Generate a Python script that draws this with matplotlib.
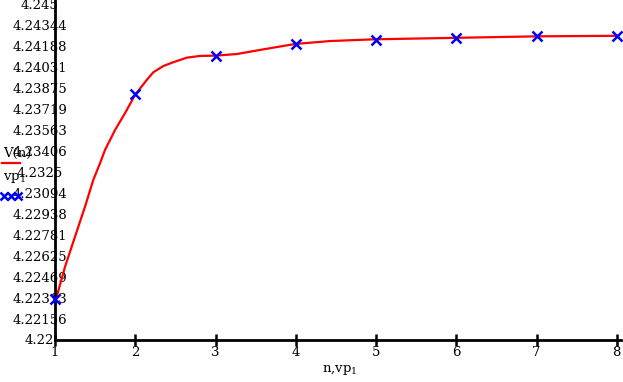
import matplotlib
matplotlib.use("Agg")
import matplotlib.pyplot as plt
from matplotlib.lines import Line2D

# ---- data ----
n_pts = [1, 2, 3, 4, 5, 6, 7, 8]
vp1 = [4.22300, 4.23829, 4.24113, 4.24202, 4.24233, 4.24249, 4.24259, 4.24264]

curve_n = [1.0, 1.021, 1.125, 1.249, 1.374, 1.477, 1.561, 1.623, 1.748,
           1.872, 1.997, 2.143, 2.225, 2.350, 2.474, 2.641, 2.807, 2.994,
           3.264, 3.596, 3.991, 4.427, 4.988, 6.0, 7.0, 8.0]
curve_v = [4.22300, 4.22319, 4.22542, 4.22766, 4.22990, 4.23189, 4.23313,
           4.23412, 4.23561, 4.23686, 4.23822, 4.23934, 4.23991, 4.24038,
           4.24066, 4.24100, 4.24113, 4.24115, 4.24127, 4.24162, 4.24202,
           4.24224, 4.24237, 4.24248, 4.24259, 4.24263]

ytick_vals = [4.22, 4.2215625, 4.223125, 4.2246875, 4.22625, 4.2278125,
              4.229375, 4.2309375, 4.2325, 4.2340625, 4.235625, 4.2371875,
              4.23875, 4.2403125, 4.241875, 4.2434375, 4.245]
ytick_labels = ["4.22", "4.22156", "4.22313", "4.22469", "4.22625", "4.22781",
                "4.22938", "4.23094", "4.2325", "4.23406", "4.23563", "4.23719",
                "4.23875", "4.24031", "4.24188", "4.24344", "4.245"]
xtick_vals = [1, 2, 3, 4, 5, 6, 7, 8]
xtick_labels = ["1", "2", "3", "4", "5", "6", "7", "8"]

# ---- figure ----
W, H = 623, 382
fig = plt.figure(figsize=(W / 100, H / 100), dpi=100)
FONT = "DejaVu Serif"
plt.rcParams["font.family"] = FONT
FS = 9.5

ax = fig.add_axes([55 / W, (H - 339.5) / H, (621 - 55) / W, 339.5 / H])
ax.set_xlim(1, 1 + 566 / 80.25)
ax.set_ylim(4.22, 4.22 + 339.5 / 13420)

ax.plot(curve_n, curve_v, color="#ff0000", lw=1.6, zorder=2)
ax.plot(n_pts, vp1, linestyle="none", marker="x", color="#0000ff",
        markersize=6.5, markeredgewidth=1.8, zorder=3, clip_on=False)

for s in ["top", "right"]:
    ax.spines[s].set_visible(False)
for s in ["left", "bottom"]:
    ax.spines[s].set_linewidth(2.0)
    ax.spines[s].set_color("black")

ax.set_yticks(ytick_vals)
ax.set_yticklabels(ytick_labels, fontsize=FS, family=FONT)
ax.tick_params(axis="y", length=0, pad=11)
for lab in ax.get_yticklabels():
    lab.set_horizontalalignment("center")

ax.set_xticks(xtick_vals)
ax.set_xticklabels(xtick_labels, fontsize=FS, family=FONT)
ax.tick_params(axis="x", direction="inout", length=8, width=1.8, pad=1)

# x-axis title
fig.text(340 / W, 1 - 370 / H, r"n,vp$_{\mathregular{1}}$", ha="center",
         va="center", fontsize=FS, family=FONT)

# Mathcad-style y-axis legend
fig.text(3 / W, 1 - 153 / H, "V(n)", ha="left", va="center", fontsize=FS,
         family=FONT)
fig.add_artist(Line2D([2 / W, 20 / W], [1 - 163 / H] * 2, color="#ff0000",
                      lw=1.6, transform=fig.transFigure))
fig.text(3 / W, 1 - 178 / H, r"vp$_{\mathregular{1}}$", ha="left",
         va="center", fontsize=FS, family=FONT)
fig.add_artist(Line2D([4 / W, 11 / W, 18 / W], [1 - 196 / H] * 3,
                      linestyle="none", marker="x", color="#0000ff",
                      markersize=6, markeredgewidth=1.8,
                      transform=fig.transFigure))

fig.savefig("out.png", dpi=100)
